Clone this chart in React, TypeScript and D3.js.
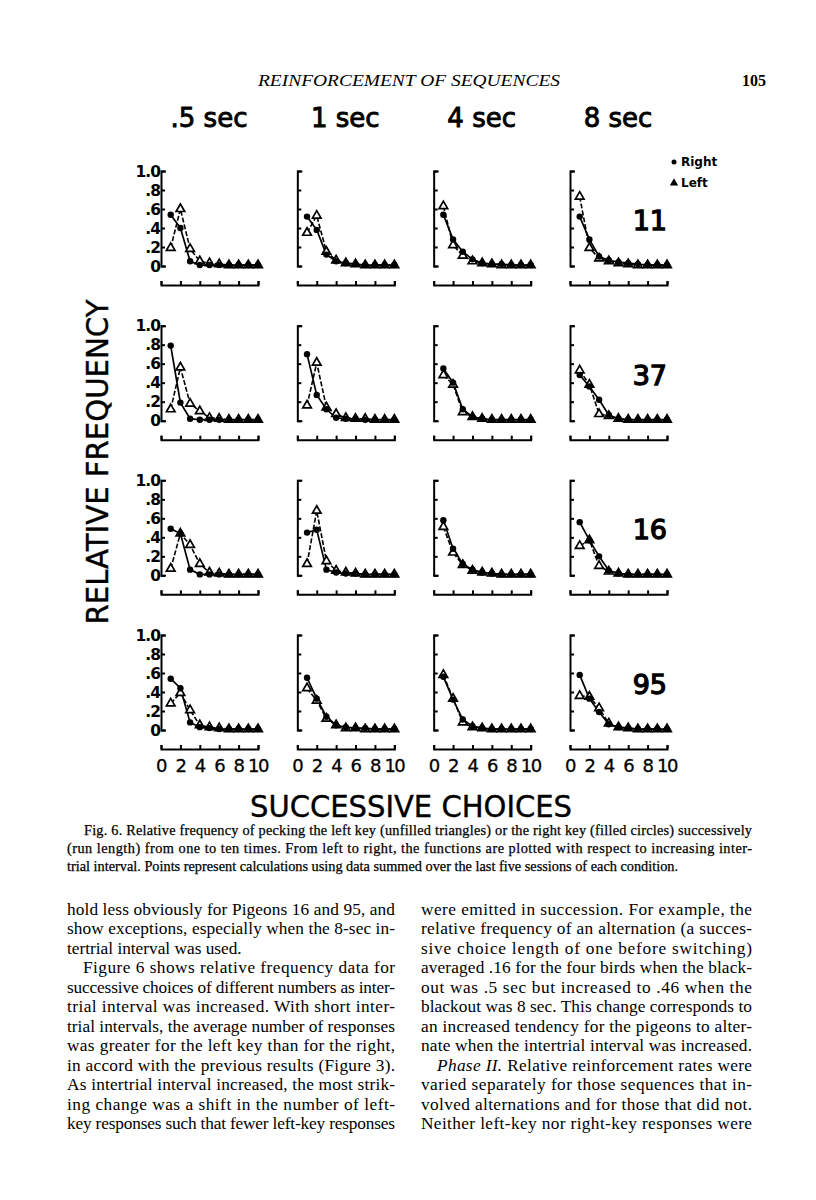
import React, { useEffect, useRef } from "react";
import * as d3 from "d3";

// column headers (intertrial interval) and row labels (pigeon)
const intervals = [".5 sec", "1 sec", "4 sec", "8 sec"];
const pigeons = ["11", "37", "16", "95"];
const runLengths = [1, 2, 3, 4, 5, 6, 7, 8, 9, 10];
const yTicks = [0, 0.2, 0.4, 0.6, 0.8, 1.0];
const yTickLabels = ["0", ".2", ".4", ".6", ".8", "1.0"];
const xTicks = [0, 2, 4, 6, 8, 10];

// right key (filled circles) – one array per interval, .5 / 1 / 4 / 8 sec
const right11 = [
  [0.54, 0.40, 0.05, 0.01, 0.01, 0.01, 0.01, 0.01, 0.01, 0.01],
  [0.52, 0.38, 0.12, 0.05, 0.03, 0.02, 0.01, 0.01, 0.01, 0.01],
  [0.54, 0.28, 0.15, 0.07, 0.03, 0.02, 0.02, 0.01, 0.01, 0.01],
  [0.52, 0.28, 0.10, 0.06, 0.04, 0.03, 0.02, 0.01, 0.01, 0.01],
];
const right37 = [
  [0.79, 0.19, 0.02, 0.01, 0.01, 0.01, 0.01, 0.01, 0.01, 0.01],
  [0.70, 0.27, 0.12, 0.03, 0.02, 0.02, 0.01, 0.01, 0.01, 0.01],
  [0.55, 0.40, 0.12, 0.04, 0.02, 0.01, 0.01, 0.01, 0.01, 0.01],
  [0.48, 0.36, 0.22, 0.06, 0.02, 0.01, 0.01, 0.01, 0.01, 0.01],
];
const right16 = [
  [0.49, 0.44, 0.06, 0.01, 0.01, 0.01, 0.01, 0.01, 0.01, 0.01],
  [0.45, 0.48, 0.06, 0.03, 0.02, 0.02, 0.01, 0.01, 0.01, 0.01],
  [0.58, 0.28, 0.12, 0.06, 0.03, 0.02, 0.01, 0.01, 0.01, 0.01],
  [0.56, 0.37, 0.20, 0.05, 0.02, 0.01, 0.01, 0.01, 0.01, 0.01],
];
const right95 = [
  [0.54, 0.44, 0.08, 0.03, 0.02, 0.01, 0.01, 0.01, 0.01, 0.01],
  [0.55, 0.33, 0.14, 0.05, 0.03, 0.02, 0.02, 0.01, 0.01, 0.01],
  [0.56, 0.32, 0.11, 0.04, 0.02, 0.01, 0.01, 0.01, 0.01, 0.01],
  [0.58, 0.33, 0.19, 0.06, 0.03, 0.02, 0.01, 0.01, 0.01, 0.01],
];

// left key (unfilled triangles)
const left11 = [
  [0.19, 0.60, 0.18, 0.05, 0.03, 0.02, 0.01, 0.01, 0.01, 0.01],
  [0.35, 0.53, 0.15, 0.06, 0.03, 0.02, 0.01, 0.01, 0.01, 0.01],
  [0.63, 0.22, 0.11, 0.05, 0.03, 0.02, 0.01, 0.01, 0.01, 0.01],
  [0.73, 0.19, 0.08, 0.05, 0.03, 0.02, 0.01, 0.01, 0.01, 0.01],
];
const left37 = [
  [0.12, 0.56, 0.18, 0.10, 0.03, 0.02, 0.01, 0.01, 0.01, 0.01],
  [0.16, 0.61, 0.14, 0.07, 0.03, 0.02, 0.02, 0.01, 0.01, 0.01],
  [0.48, 0.38, 0.09, 0.04, 0.02, 0.01, 0.01, 0.01, 0.01, 0.01],
  [0.53, 0.38, 0.07, 0.05, 0.02, 0.01, 0.01, 0.01, 0.01, 0.01],
];
const left16 = [
  [0.07, 0.44, 0.32, 0.12, 0.03, 0.02, 0.01, 0.01, 0.01, 0.01],
  [0.12, 0.68, 0.15, 0.05, 0.03, 0.02, 0.01, 0.01, 0.01, 0.01],
  [0.51, 0.24, 0.11, 0.05, 0.03, 0.02, 0.01, 0.01, 0.01, 0.01],
  [0.31, 0.37, 0.10, 0.04, 0.02, 0.01, 0.01, 0.01, 0.01, 0.01],
];
const left95 = [
  [0.28, 0.39, 0.21, 0.05, 0.03, 0.02, 0.01, 0.01, 0.01, 0.01],
  [0.44, 0.31, 0.12, 0.05, 0.02, 0.02, 0.01, 0.01, 0.01, 0.01],
  [0.58, 0.33, 0.08, 0.03, 0.02, 0.01, 0.01, 0.01, 0.01, 0.01],
  [0.36, 0.35, 0.23, 0.07, 0.03, 0.02, 0.01, 0.01, 0.01, 0.01],
];

const rightByPigeon = [right11, right37, right16, right95];
const leftByPigeon = [left11, left37, left16, left95];

const captionLines = [
  "Fig. 6. Relative frequency of pecking the left key (unfilled triangles) or the right key (filled circles) successively",
  "(run length) from one to ten times. From left to right, the functions are plotted with respect to increasing inter-",
  "trial interval. Points represent calculations using data summed over the last five sessions of each condition.",
];

const leftColumn = [
  "hold less obviously for Pigeons 16 and 95, and",
  "show exceptions, especially when the 8-sec in-",
  "tertrial interval was used.",
  "Figure 6 shows relative frequency data for",
  "successive choices of different numbers as inter-",
  "trial interval was increased. With short inter-",
  "trial intervals, the average number of responses",
  "was greater for the left key than for the right,",
  "in accord with the previous results (Figure 3).",
  "As intertrial interval increased, the most strik-",
  "ing change was a shift in the number of left-",
  "key responses such that fewer left-key responses",
];
const rightColumn = [
  "were emitted in succession. For example, the",
  "relative frequency of an alternation (a succes-",
  "sive choice length of one before switching)",
  "averaged .16 for the four birds when the black-",
  "out was .5 sec but increased to .46 when the",
  "blackout was 8 sec. This change corresponds to",
  "an increased tendency for the pigeons to alter-",
  "nate when the intertrial interval was increased.",
  "Phase II. Relative reinforcement rates were",
  "varied separately for those sequences that in-",
  "volved alternations and for those that did not.",
  "Neither left-key nor right-key responses were",
];

const figFont = "'DejaVu Sans', sans-serif";
const serif = "'Liberation Serif', 'Times New Roman', serif";

const App = () => {
  const ref = useRef<SVGSVGElement | null>(null);

  useEffect(() => {
    const svg = d3.select(ref.current);
    svg.selectAll("*").remove();

    const colScale = d3.scaleLinear().domain([0, 3]).range([161, 570]);
    const rowScale = d3.scaleLinear().domain([0, 3]).range([266, 730]);
    const panelW = 97;
    const panelH = 95;

    // running head
    svg.append("text")
      .attr("x", 409).attr("y", 86)
      .attr("text-anchor", "middle")
      .attr("font-family", serif).attr("font-style", "italic")
      .attr("font-size", 17)
      .attr("textLength", 302).attr("lengthAdjust", "spacingAndGlyphs")
      .text("REINFORCEMENT OF SEQUENCES");
    svg.append("text")
      .attr("x", 766).attr("y", 86)
      .attr("text-anchor", "end")
      .attr("font-family", serif).attr("font-weight", "bold")
      .attr("font-size", 16)
      .text("105");

    // column headers
    intervals.forEach((t, c) => {
      svg.append("text")
        .attr("x", colScale(c) + 48).attr("y", 127)
        .attr("text-anchor", "middle")
        .attr("font-family", figFont)
        .attr("font-size", 26)
        .attr("stroke", "#000").attr("stroke-width", 0.9)
        .text(t);
    });

    // legend
    svg.append("circle").attr("cx", 674).attr("cy", 162).attr("r", 2.5).attr("fill", "#000");
    svg.append("path")
      .attr("d", d3.symbol(d3.symbolTriangle).size(30)())
      .attr("transform", "translate(674,183)").attr("fill", "#000");
    svg.append("text").attr("x", 681).attr("y", 166)
      .attr("font-family", figFont).attr("font-weight", "bold").attr("font-size", 12).text("Right");
    svg.append("text").attr("x", 681).attr("y", 187)
      .attr("font-family", figFont).attr("font-weight", "bold").attr("font-size", 12).text("Left");

    pigeons.forEach((pg, r) => {
      const y0 = rowScale(r);
      const y = d3.scaleLinear().domain([0, 1]).range([y0, y0 - panelH]);

      svg.append("text")
        .attr("x", 667).attr("y", y0 - 36)
        .attr("text-anchor", "end")
        .attr("font-family", figFont)
        .attr("font-size", 27)
        .attr("stroke", "#000").attr("stroke-width", 1.3)
        .text(pg);

      intervals.forEach((_, c) => {
        const x0 = colScale(c);
        const x = d3.scaleLinear().domain([0, 10]).range([x0, x0 + panelW]);
        const g = svg.append("g");

        const yAxis = g.append("g")
          .attr("transform", `translate(${x0},0)`)
          .call(d3.axisRight(y).tickValues(yTicks).tickSize(4).tickSizeOuter(5).tickFormat(() => ""));
        yAxis.selectAll("path,line").attr("stroke", "#000").attr("stroke-width", 2);
        yAxis.selectAll("text").remove();

        const xAxis = g.append("g")
          .attr("transform", `translate(0,${y0 + 19})`)
          .call(d3.axisTop(x).tickValues(xTicks).tickSize(4).tickSizeOuter(4).tickFormat(() => ""));
        xAxis.selectAll("path,line").attr("stroke", "#000").attr("stroke-width", 2);
        xAxis.selectAll("text").remove();

        if (c === 0) {
          yTicks.forEach((v, i) => {
            g.append("text")
              .attr("x", x0 - 1).attr("y", y(v) + 5.5)
              .attr("text-anchor", "end")
              .attr("font-family", figFont).attr("font-weight", "bold")
              .attr("font-size", 15.5).attr("letter-spacing", -1)
              .text(yTickLabels[i]);
          });
        }
        if (r === 3) {
          xTicks.forEach(v => {
            g.append("text")
              .attr("x", x(v)).attr("y", y0 + 42)
              .attr("text-anchor", "middle")
              .attr("font-family", figFont)
              .attr("font-size", 18).attr("letter-spacing", -1.5)
              .attr("stroke", "#000").attr("stroke-width", 0.3)
              .text(v);
          });
        }

        const rightVals = rightByPigeon[r][c];
        const leftVals = leftByPigeon[r][c];
        const line = d3.line<number>()
          .x((d, i) => x(runLengths[i]))
          .y(d => y(d));

        g.append("path").datum(leftVals)
          .attr("d", line).attr("fill", "none")
          .attr("stroke", "#000").attr("stroke-width", 1.6)
          .attr("stroke-dasharray", "5,2");
        g.append("path").datum(rightVals)
          .attr("d", line).attr("fill", "none")
          .attr("stroke", "#000").attr("stroke-width", 1.7);

        g.selectAll(".tri").data(leftVals).enter().append("path")
          .attr("d", d3.symbol(d3.symbolTriangle).size(32)())
          .attr("transform", (d, i) => `translate(${x(runLengths[i])},${y(d)})`)
          .attr("fill", "#fff").attr("stroke", "#000").attr("stroke-width", 1.7);
        g.selectAll(".dot").data(rightVals).enter().append("circle")
          .attr("cx", (d, i) => x(runLengths[i]))
          .attr("cy", d => y(d))
          .attr("r", 3.2).attr("fill", "#000");
      });
    });

    // axis titles
    svg.append("text")
      .attr("transform", "translate(108,462) rotate(-90)")
      .attr("text-anchor", "middle")
      .attr("font-family", figFont).attr("font-size", 30)
      .attr("stroke", "#000").attr("stroke-width", 0.4)
      .attr("textLength", 325).attr("lengthAdjust", "spacingAndGlyphs")
      .text("RELATIVE FREQUENCY");
    svg.append("text")
      .attr("x", 411).attr("y", 817)
      .attr("text-anchor", "middle")
      .attr("font-family", figFont).attr("font-size", 30)
      .attr("stroke", "#000").attr("stroke-width", 0.4)
      .attr("textLength", 322).attr("lengthAdjust", "spacingAndGlyphs")
      .text("SUCCESSIVE CHOICES");

    // caption
    captionLines.forEach((t, i) => {
      const tx = svg.append("text")
        .attr("x", i === 0 ? 84 : 67).attr("y", 835 + i * 18)
        .attr("font-family", serif).attr("font-size", 14.3)
        .attr("stroke", "#000").attr("stroke-width", 0.25)
        .text(t);
      if (i < 2) tx.attr("textLength", i === 0 ? 668 : 685).attr("lengthAdjust", "spacing");
    });

    // body text, two justified columns
    const bodyCols = [
      { lines: leftColumn, x: 67, w: 328, indent: [3], last: [2] },
      { lines: rightColumn, x: 421, w: 331, indent: [8], last: [] as number[] },
    ];
    bodyCols.forEach(col => {
      col.lines.forEach((t, i) => {
        const ind = col.indent.includes(i) ? 16 : 0;
        const tx = svg.append("text")
          .attr("x", col.x + ind).attr("y", 915 + i * 19.45)
          .attr("font-family", serif).attr("font-size", 17.3);
        if (t.startsWith("Phase II.")) {
          tx.append("tspan").attr("font-style", "italic").text("Phase II.");
          tx.append("tspan").text(t.slice(9));
        } else {
          tx.text(t);
        }
        if (!col.last.includes(i)) tx.attr("textLength", col.w - ind).attr("lengthAdjust", "spacing");
      });
    });
  }, []);

  return (
    <svg
      ref={ref}
      width={816}
      height={1200}
      style={{ position: "absolute", left: 0, top: 0, background: "#fff" }}
    />
  );
};

export default App;
